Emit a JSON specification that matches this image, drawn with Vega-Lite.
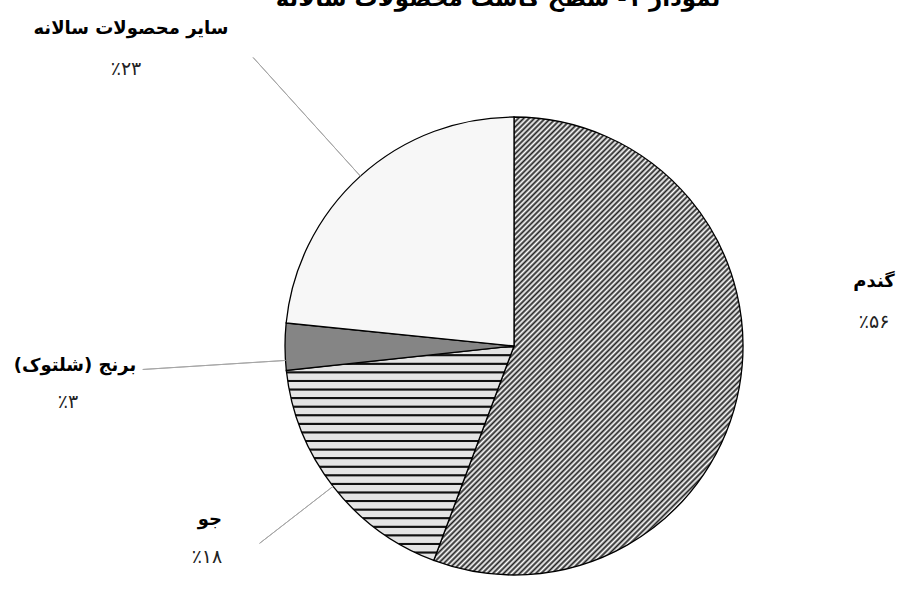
{
 "$schema": "https://vega.github.io/schema/vega-lite/v6.json",
 "width": 458,
 "height": 458,
 "autosize": {"type": "none"},
 "padding": {"left": 285, "top": 117, "right": 163, "bottom": 15},
 "background": "white",
 "config": {"view": {"stroke": null}, "font": "DejaVu Sans"},
 "title": {"text": "نمودار ۱- سطح کاشت محصولات سالانه", "fontSize": 23, "fontWeight": "bold", "font": "DejaVu Sans", "color": "#000", "frame": "group", "anchor": "middle", "baseline": "alphabetic", "offset": -9, "dx": -16},
 "data": {"values": [
  {"crop": "گندم", "label": "گندم", "pct": "٪۵۶", "value": 55.7, "order": 1},
  {"crop": "جو", "label": "جو", "pct": "٪۱۸", "value": 17.6, "order": 2},
  {"crop": "برنج", "label": "\u200fبرنج (شلتوک)\u200f", "pct": "٪۳", "value": 3.3, "order": 3},
  {"crop": "سایر", "label": "سایر محصولات سالانه", "pct": "٪۲۳", "value": 23.4, "order": 4}
 ]},
 "encoding": {
  "theta": {"field": "value", "type": "quantitative", "stack": true, "scale": {"domain": [0, 100]}},
  "order": {"field": "order", "type": "quantitative", "sort": "ascending"}
 },
 "layer": [
  {
   "mark": {"type": "arc", "stroke": "#000", "strokeWidth": 1.3},
   "encoding": {
    "fill": {
     "condition": [
      {"test": "datum.order===1", "value": {"gradient": "linear", "x1": 0, "y1": 0, "x2": 0.7768, "y2": 1.1507, "stops": [
{"offset":0,"color":"#222"},{"offset":0.0035,"color":"#fff"},{"offset":0.007,"color":"#222"},{"offset":0.0105,"color":"#fff"},{"offset":0.014,"color":"#222"},{"offset":0.0175,"color":"#fff"},{"offset":0.021,"color":"#222"},{"offset":0.0245,"color":"#fff"},{"offset":0.028,"color":"#222"},{"offset":0.0315,"color":"#fff"},{"offset":0.035,"color":"#222"},{"offset":0.0385,"color":"#fff"},{"offset":0.042,"color":"#222"},{"offset":0.0455,"color":"#fff"},{"offset":0.049,"color":"#222"},{"offset":0.0525,"color":"#fff"},{"offset":0.056,"color":"#222"},{"offset":0.0595,"color":"#fff"},{"offset":0.063,"color":"#222"},{"offset":0.0665,"color":"#fff"},
{"offset":0.07,"color":"#222"},{"offset":0.0735,"color":"#fff"},{"offset":0.077,"color":"#222"},{"offset":0.0805,"color":"#fff"},{"offset":0.084,"color":"#222"},{"offset":0.0875,"color":"#fff"},{"offset":0.091,"color":"#222"},{"offset":0.0945,"color":"#fff"},{"offset":0.098,"color":"#222"},{"offset":0.1015,"color":"#fff"},{"offset":0.105,"color":"#222"},{"offset":0.1085,"color":"#fff"},{"offset":0.112,"color":"#222"},{"offset":0.1155,"color":"#fff"},{"offset":0.119,"color":"#222"},{"offset":0.1225,"color":"#fff"},{"offset":0.126,"color":"#222"},{"offset":0.1295,"color":"#fff"},{"offset":0.133,"color":"#222"},{"offset":0.1365,"color":"#fff"},
{"offset":0.14,"color":"#222"},{"offset":0.1435,"color":"#fff"},{"offset":0.147,"color":"#222"},{"offset":0.1505,"color":"#fff"},{"offset":0.154,"color":"#222"},{"offset":0.1575,"color":"#fff"},{"offset":0.161,"color":"#222"},{"offset":0.1645,"color":"#fff"},{"offset":0.168,"color":"#222"},{"offset":0.1715,"color":"#fff"},{"offset":0.175,"color":"#222"},{"offset":0.1785,"color":"#fff"},{"offset":0.182,"color":"#222"},{"offset":0.1855,"color":"#fff"},{"offset":0.189,"color":"#222"},{"offset":0.1925,"color":"#fff"},{"offset":0.196,"color":"#222"},{"offset":0.1995,"color":"#fff"},{"offset":0.203,"color":"#222"},{"offset":0.2065,"color":"#fff"},
{"offset":0.21,"color":"#222"},{"offset":0.2135,"color":"#fff"},{"offset":0.217,"color":"#222"},{"offset":0.2205,"color":"#fff"},{"offset":0.224,"color":"#222"},{"offset":0.2275,"color":"#fff"},{"offset":0.231,"color":"#222"},{"offset":0.2345,"color":"#fff"},{"offset":0.238,"color":"#222"},{"offset":0.2415,"color":"#fff"},{"offset":0.245,"color":"#222"},{"offset":0.2485,"color":"#fff"},{"offset":0.252,"color":"#222"},{"offset":0.2555,"color":"#fff"},{"offset":0.259,"color":"#222"},{"offset":0.2625,"color":"#fff"},{"offset":0.266,"color":"#222"},{"offset":0.2695,"color":"#fff"},{"offset":0.273,"color":"#222"},{"offset":0.2765,"color":"#fff"},
{"offset":0.28,"color":"#222"},{"offset":0.2835,"color":"#fff"},{"offset":0.287,"color":"#222"},{"offset":0.2905,"color":"#fff"},{"offset":0.294,"color":"#222"},{"offset":0.2975,"color":"#fff"},{"offset":0.301,"color":"#222"},{"offset":0.3045,"color":"#fff"},{"offset":0.308,"color":"#222"},{"offset":0.3115,"color":"#fff"},{"offset":0.315,"color":"#222"},{"offset":0.3185,"color":"#fff"},{"offset":0.322,"color":"#222"},{"offset":0.3255,"color":"#fff"},{"offset":0.329,"color":"#222"},{"offset":0.3325,"color":"#fff"},{"offset":0.336,"color":"#222"},{"offset":0.3395,"color":"#fff"},{"offset":0.343,"color":"#222"},{"offset":0.3465,"color":"#fff"},
{"offset":0.35,"color":"#222"},{"offset":0.3535,"color":"#fff"},{"offset":0.357,"color":"#222"},{"offset":0.3605,"color":"#fff"},{"offset":0.364,"color":"#222"},{"offset":0.3675,"color":"#fff"},{"offset":0.371,"color":"#222"},{"offset":0.3745,"color":"#fff"},{"offset":0.378,"color":"#222"},{"offset":0.3815,"color":"#fff"},{"offset":0.385,"color":"#222"},{"offset":0.3885,"color":"#fff"},{"offset":0.392,"color":"#222"},{"offset":0.3955,"color":"#fff"},{"offset":0.399,"color":"#222"},{"offset":0.4025,"color":"#fff"},{"offset":0.406,"color":"#222"},{"offset":0.4095,"color":"#fff"},{"offset":0.413,"color":"#222"},{"offset":0.4165,"color":"#fff"},
{"offset":0.42,"color":"#222"},{"offset":0.4235,"color":"#fff"},{"offset":0.427,"color":"#222"},{"offset":0.4305,"color":"#fff"},{"offset":0.434,"color":"#222"},{"offset":0.4375,"color":"#fff"},{"offset":0.441,"color":"#222"},{"offset":0.4445,"color":"#fff"},{"offset":0.448,"color":"#222"},{"offset":0.4515,"color":"#fff"},{"offset":0.455,"color":"#222"},{"offset":0.4585,"color":"#fff"},{"offset":0.462,"color":"#222"},{"offset":0.4655,"color":"#fff"},{"offset":0.469,"color":"#222"},{"offset":0.4725,"color":"#fff"},{"offset":0.476,"color":"#222"},{"offset":0.4795,"color":"#fff"},{"offset":0.483,"color":"#222"},{"offset":0.4865,"color":"#fff"},
{"offset":0.49,"color":"#222"},{"offset":0.4935,"color":"#fff"},{"offset":0.497,"color":"#222"},{"offset":0.5005,"color":"#fff"},{"offset":0.504,"color":"#222"},{"offset":0.5075,"color":"#fff"},{"offset":0.511,"color":"#222"},{"offset":0.5145,"color":"#fff"},{"offset":0.518,"color":"#222"},{"offset":0.5215,"color":"#fff"},{"offset":0.525,"color":"#222"},{"offset":0.5285,"color":"#fff"},{"offset":0.532,"color":"#222"},{"offset":0.5355,"color":"#fff"},{"offset":0.539,"color":"#222"},{"offset":0.5425,"color":"#fff"},{"offset":0.546,"color":"#222"},{"offset":0.5495,"color":"#fff"},{"offset":0.553,"color":"#222"},{"offset":0.5565,"color":"#fff"},
{"offset":0.56,"color":"#222"},{"offset":0.5635,"color":"#fff"},{"offset":0.567,"color":"#222"},{"offset":0.5705,"color":"#fff"},{"offset":0.574,"color":"#222"},{"offset":0.5775,"color":"#fff"},{"offset":0.581,"color":"#222"},{"offset":0.5845,"color":"#fff"},{"offset":0.588,"color":"#222"},{"offset":0.5915,"color":"#fff"},{"offset":0.595,"color":"#222"},{"offset":0.5985,"color":"#fff"},{"offset":0.602,"color":"#222"},{"offset":0.6055,"color":"#fff"},{"offset":0.609,"color":"#222"},{"offset":0.6125,"color":"#fff"},{"offset":0.616,"color":"#222"},{"offset":0.6195,"color":"#fff"},{"offset":0.623,"color":"#222"},{"offset":0.6265,"color":"#fff"},
{"offset":0.63,"color":"#222"},{"offset":0.6335,"color":"#fff"},{"offset":0.637,"color":"#222"},{"offset":0.6405,"color":"#fff"},{"offset":0.644,"color":"#222"},{"offset":0.6475,"color":"#fff"},{"offset":0.651,"color":"#222"},{"offset":0.6545,"color":"#fff"},{"offset":0.658,"color":"#222"},{"offset":0.6615,"color":"#fff"},{"offset":0.665,"color":"#222"},{"offset":0.6685,"color":"#fff"},{"offset":0.672,"color":"#222"},{"offset":0.6755,"color":"#fff"},{"offset":0.679,"color":"#222"},{"offset":0.6825,"color":"#fff"},{"offset":0.686,"color":"#222"},{"offset":0.6895,"color":"#fff"},{"offset":0.693,"color":"#222"},{"offset":0.6965,"color":"#fff"},
{"offset":0.7,"color":"#222"},{"offset":0.7035,"color":"#fff"},{"offset":0.707,"color":"#222"},{"offset":0.7105,"color":"#fff"},{"offset":0.714,"color":"#222"},{"offset":0.7175,"color":"#fff"},{"offset":0.721,"color":"#222"},{"offset":0.7245,"color":"#fff"},{"offset":0.728,"color":"#222"},{"offset":0.7315,"color":"#fff"},{"offset":0.735,"color":"#222"},{"offset":0.7385,"color":"#fff"},{"offset":0.742,"color":"#222"},{"offset":0.7455,"color":"#fff"},{"offset":0.749,"color":"#222"},{"offset":0.7525,"color":"#fff"},{"offset":0.756,"color":"#222"},{"offset":0.7595,"color":"#fff"},{"offset":0.763,"color":"#222"},{"offset":0.7665,"color":"#fff"},
{"offset":0.77,"color":"#222"},{"offset":0.7735,"color":"#fff"},{"offset":0.777,"color":"#222"},{"offset":0.7805,"color":"#fff"},{"offset":0.784,"color":"#222"},{"offset":0.7875,"color":"#fff"},{"offset":0.791,"color":"#222"},{"offset":0.7945,"color":"#fff"},{"offset":0.798,"color":"#222"},{"offset":0.8015,"color":"#fff"},{"offset":0.805,"color":"#222"},{"offset":0.8085,"color":"#fff"},{"offset":0.812,"color":"#222"},{"offset":0.8155,"color":"#fff"},{"offset":0.819,"color":"#222"},{"offset":0.8225,"color":"#fff"},{"offset":0.826,"color":"#222"},{"offset":0.8295,"color":"#fff"},{"offset":0.833,"color":"#222"},{"offset":0.8365,"color":"#fff"},
{"offset":0.84,"color":"#222"},{"offset":0.8435,"color":"#fff"},{"offset":0.847,"color":"#222"},{"offset":0.8505,"color":"#fff"},{"offset":0.854,"color":"#222"},{"offset":0.8575,"color":"#fff"},{"offset":0.861,"color":"#222"},{"offset":0.8645,"color":"#fff"},{"offset":0.868,"color":"#222"},{"offset":0.8715,"color":"#fff"},{"offset":0.875,"color":"#222"},{"offset":0.8785,"color":"#fff"},{"offset":0.882,"color":"#222"},{"offset":0.8855,"color":"#fff"},{"offset":0.889,"color":"#222"},{"offset":0.8925,"color":"#fff"},{"offset":0.896,"color":"#222"},{"offset":0.8995,"color":"#fff"},{"offset":0.903,"color":"#222"},{"offset":0.9065,"color":"#fff"},
{"offset":0.91,"color":"#222"},{"offset":0.9135,"color":"#fff"},{"offset":0.917,"color":"#222"},{"offset":0.9205,"color":"#fff"},{"offset":0.924,"color":"#222"},{"offset":0.9275,"color":"#fff"},{"offset":0.931,"color":"#222"},{"offset":0.9345,"color":"#fff"},{"offset":0.938,"color":"#222"},{"offset":0.9415,"color":"#fff"},{"offset":0.945,"color":"#222"},{"offset":0.9485,"color":"#fff"},{"offset":0.952,"color":"#222"},{"offset":0.9555,"color":"#fff"},{"offset":0.959,"color":"#222"},{"offset":0.9625,"color":"#fff"},{"offset":0.966,"color":"#222"},{"offset":0.9695,"color":"#fff"},{"offset":0.973,"color":"#222"},{"offset":0.9765,"color":"#fff"},
{"offset":0.98,"color":"#222"},{"offset":0.9835,"color":"#fff"},{"offset":0.987,"color":"#222"},{"offset":0.9905,"color":"#fff"},{"offset":0.994,"color":"#222"},{"offset":0.9975,"color":"#fff"},{"offset":1,"color":"#222"}
      ]}},
      {"test": "datum.order===2", "value": {"gradient": "linear", "x1": 0, "y1": 0, "x2": 0, "y2": 1, "stops": [
{"offset":0,"color":"#111"},{"offset":0.006,"color":"#111"},{"offset":0.01,"color":"#e4e4e4"},{"offset":0.036,"color":"#e4e4e4"},
{"offset":0.04,"color":"#111"},{"offset":0.046,"color":"#111"},{"offset":0.05,"color":"#e4e4e4"},{"offset":0.076,"color":"#e4e4e4"},
{"offset":0.08,"color":"#111"},{"offset":0.086,"color":"#111"},{"offset":0.09,"color":"#e4e4e4"},{"offset":0.116,"color":"#e4e4e4"},
{"offset":0.12,"color":"#111"},{"offset":0.126,"color":"#111"},{"offset":0.13,"color":"#e4e4e4"},{"offset":0.156,"color":"#e4e4e4"},
{"offset":0.16,"color":"#111"},{"offset":0.166,"color":"#111"},{"offset":0.17,"color":"#e4e4e4"},{"offset":0.196,"color":"#e4e4e4"},
{"offset":0.2,"color":"#111"},{"offset":0.206,"color":"#111"},{"offset":0.21,"color":"#e4e4e4"},{"offset":0.236,"color":"#e4e4e4"},
{"offset":0.24,"color":"#111"},{"offset":0.246,"color":"#111"},{"offset":0.25,"color":"#e4e4e4"},{"offset":0.276,"color":"#e4e4e4"},
{"offset":0.28,"color":"#111"},{"offset":0.286,"color":"#111"},{"offset":0.29,"color":"#e4e4e4"},{"offset":0.316,"color":"#e4e4e4"},
{"offset":0.32,"color":"#111"},{"offset":0.326,"color":"#111"},{"offset":0.33,"color":"#e4e4e4"},{"offset":0.356,"color":"#e4e4e4"},
{"offset":0.36,"color":"#111"},{"offset":0.366,"color":"#111"},{"offset":0.37,"color":"#e4e4e4"},{"offset":0.396,"color":"#e4e4e4"},
{"offset":0.4,"color":"#111"},{"offset":0.406,"color":"#111"},{"offset":0.41,"color":"#e4e4e4"},{"offset":0.436,"color":"#e4e4e4"},
{"offset":0.44,"color":"#111"},{"offset":0.446,"color":"#111"},{"offset":0.45,"color":"#e4e4e4"},{"offset":0.476,"color":"#e4e4e4"},
{"offset":0.48,"color":"#111"},{"offset":0.486,"color":"#111"},{"offset":0.49,"color":"#e4e4e4"},{"offset":0.516,"color":"#e4e4e4"},
{"offset":0.52,"color":"#111"},{"offset":0.526,"color":"#111"},{"offset":0.53,"color":"#e4e4e4"},{"offset":0.556,"color":"#e4e4e4"},
{"offset":0.56,"color":"#111"},{"offset":0.566,"color":"#111"},{"offset":0.57,"color":"#e4e4e4"},{"offset":0.596,"color":"#e4e4e4"},
{"offset":0.6,"color":"#111"},{"offset":0.606,"color":"#111"},{"offset":0.61,"color":"#e4e4e4"},{"offset":0.636,"color":"#e4e4e4"},
{"offset":0.64,"color":"#111"},{"offset":0.646,"color":"#111"},{"offset":0.65,"color":"#e4e4e4"},{"offset":0.676,"color":"#e4e4e4"},
{"offset":0.68,"color":"#111"},{"offset":0.686,"color":"#111"},{"offset":0.69,"color":"#e4e4e4"},{"offset":0.716,"color":"#e4e4e4"},
{"offset":0.72,"color":"#111"},{"offset":0.726,"color":"#111"},{"offset":0.73,"color":"#e4e4e4"},{"offset":0.756,"color":"#e4e4e4"},
{"offset":0.76,"color":"#111"},{"offset":0.766,"color":"#111"},{"offset":0.77,"color":"#e4e4e4"},{"offset":0.796,"color":"#e4e4e4"},
{"offset":0.8,"color":"#111"},{"offset":0.806,"color":"#111"},{"offset":0.81,"color":"#e4e4e4"},{"offset":0.836,"color":"#e4e4e4"},
{"offset":0.84,"color":"#111"},{"offset":0.846,"color":"#111"},{"offset":0.85,"color":"#e4e4e4"},{"offset":0.876,"color":"#e4e4e4"},
{"offset":0.88,"color":"#111"},{"offset":0.886,"color":"#111"},{"offset":0.89,"color":"#e4e4e4"},{"offset":0.916,"color":"#e4e4e4"},
{"offset":0.92,"color":"#111"},{"offset":0.926,"color":"#111"},{"offset":0.93,"color":"#e4e4e4"},{"offset":0.956,"color":"#e4e4e4"},
{"offset":0.96,"color":"#111"},{"offset":0.966,"color":"#111"},{"offset":0.97,"color":"#e4e4e4"},{"offset":0.996,"color":"#e4e4e4"},
{"offset":1,"color":"#111"}
      ]}},
      {"test": "datum.order===3", "value": "#858585"}
     ],
     "value": "#f7f7f7"
    }
   }
  },
  {
   "mark": {"type": "arc", "radius": 389, "radius2": 229, "padAngle": 3.1416, "fillOpacity": 0, "stroke": "#a6a6a6", "strokeWidth": 1},
   "encoding": {"strokeOpacity": {"condition": {"test": "datum.order===4", "value": 1}, "value": 0}}
  },
  {
   "mark": {"type": "arc", "radius": 372, "radius2": 229, "padAngle": 3.1416, "thetaOffset": -0.06, "theta2Offset": -0.06, "fillOpacity": 0, "stroke": "#a6a6a6", "strokeWidth": 1},
   "encoding": {"strokeOpacity": {"condition": {"test": "datum.order===3", "value": 1}, "value": 0}}
  },
  {
   "mark": {"type": "arc", "radius": 322, "radius2": 229, "padAngle": 3.1416, "fillOpacity": 0, "stroke": "#a6a6a6", "strokeWidth": 1},
   "encoding": {"strokeOpacity": {"condition": {"test": "datum.order===2", "value": 1}, "value": 0}}
  },
  {
   "mark": {"type": "text", "radius": 229, "dx": 134.7, "dy": -104.9, "fontSize": 18, "fontWeight": "bold", "font": "DejaVu Sans", "align": "center", "baseline": "middle", "color": "#000"},
   "encoding": {"text": {"condition": {"test": "datum.order===1", "field": "label"}, "value": ""}}
  },
  {
   "mark": {"type": "text", "radius": 229, "dx": 134.7, "dy": -64.9, "fontSize": 19, "font": "DejaVu Sans", "align": "center", "baseline": "middle", "color": "#222"},
   "encoding": {"text": {"condition": {"test": "datum.order===1", "field": "pct"}, "value": ""}}
  },
  {
   "mark": {"type": "text", "radius": 229, "dx": -123.1, "dy": 33.6, "fontSize": 18, "fontWeight": "bold", "font": "DejaVu Sans", "align": "center", "baseline": "middle", "color": "#000"},
   "encoding": {"text": {"condition": {"test": "datum.order===2", "field": "label"}, "value": ""}}
  },
  {
   "mark": {"type": "text", "radius": 229, "dx": -126.1, "dy": 70.6, "fontSize": 19, "font": "DejaVu Sans", "align": "center", "baseline": "middle", "color": "#222"},
   "encoding": {"text": {"condition": {"test": "datum.order===2", "field": "pct"}, "value": ""}}
  },
  {
   "mark": {"type": "text", "radius": 229, "dx": -210, "dy": 19.2, "fontSize": 18, "fontWeight": "bold", "font": "DejaVu Sans", "align": "center", "baseline": "middle", "color": "#000"},
   "encoding": {"text": {"condition": {"test": "datum.order===3", "field": "label"}, "value": ""}}
  },
  {
   "mark": {"type": "text", "radius": 229, "dx": -217, "dy": 55.2, "fontSize": 19, "font": "DejaVu Sans", "align": "center", "baseline": "middle", "color": "#222"},
   "encoding": {"text": {"condition": {"test": "datum.order===3", "field": "pct"}, "value": ""}}
  },
  {
   "mark": {"type": "text", "radius": 229, "dx": -229.4, "dy": -147.3, "fontSize": 18, "fontWeight": "bold", "font": "DejaVu Sans", "align": "center", "baseline": "middle", "color": "#000"},
   "encoding": {"text": {"condition": {"test": "datum.order===4", "field": "label"}, "value": ""}}
  },
  {
   "mark": {"type": "text", "radius": 229, "dx": -234.4, "dy": -107.3, "fontSize": 19, "font": "DejaVu Sans", "align": "center", "baseline": "middle", "color": "#222"},
   "encoding": {"text": {"condition": {"test": "datum.order===4", "field": "pct"}, "value": ""}}
  }
 ]
}
